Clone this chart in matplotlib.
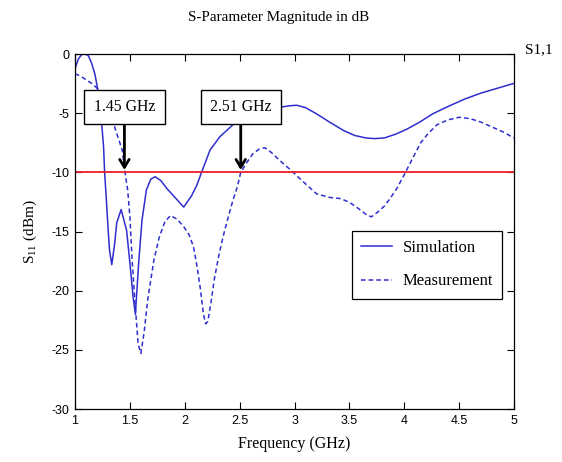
import matplotlib
matplotlib.use("Agg")
import matplotlib.pyplot as plt

# return loss traces (GHz, dB)
sim_f = [1.00, 1.03, 1.06, 1.09, 1.12, 1.15, 1.18, 1.22, 1.24, 1.26, 1.27, 1.285,
         1.30, 1.315, 1.335, 1.36, 1.38, 1.42, 1.47, 1.50, 1.53, 1.55, 1.58, 1.61,
         1.65, 1.69, 1.73, 1.78, 1.84, 1.93, 1.99, 2.06, 2.11, 2.15, 2.23, 2.32,
         2.44, 2.55, 2.65, 2.75, 2.85, 2.95, 3.02, 3.10, 3.20, 3.32, 3.45, 3.55,
         3.65, 3.73, 3.82, 3.92, 4.02, 4.14, 4.26, 4.40, 4.55, 4.70, 4.85, 5.00]
sim_db = [-1.25, -0.43, -0.05, 0.0, -0.12, -0.74, -1.66, -3.6, -5.56, -7.81, -10.07, -12.22,
          -14.58, -16.63, -17.8, -16.1, -14.27, -13.14, -14.9, -17.65, -20.6, -22.0, -17.65, -14.07,
          -11.5, -10.58, -10.37, -10.68, -11.4, -12.32, -12.94, -12.01, -11.09, -10.07, -8.12, -6.99,
          -5.97, -5.45, -5.05, -4.74, -4.53, -4.38, -4.33, -4.53, -5.05, -5.76, -6.48, -6.89,
          -7.09, -7.15, -7.09, -6.78, -6.37, -5.76, -5.05, -4.43, -3.81, -3.3, -2.89, -2.48]

meas_f = [1.00, 1.05, 1.10, 1.17, 1.22, 1.27, 1.31, 1.35, 1.39, 1.43, 1.455, 1.48,
          1.50, 1.52, 1.55, 1.575, 1.60, 1.63, 1.66, 1.68, 1.72, 1.77, 1.82, 1.87,
          1.93, 1.99, 2.04, 2.08, 2.11, 2.14, 2.17, 2.19, 2.21, 2.24, 2.27, 2.31,
          2.35, 2.40, 2.44, 2.48, 2.51, 2.56, 2.62, 2.68, 2.73, 2.79, 2.87, 2.96,
          3.08, 3.20, 3.32, 3.42, 3.50, 3.58, 3.65, 3.70, 3.76, 3.82, 3.87, 3.93,
          4.00, 4.08, 4.15, 4.22, 4.30, 4.40, 4.50, 4.60, 4.70, 4.80, 4.90, 5.00]
meas_db = [-1.66, -1.87, -2.17, -2.59, -3.1, -3.81, -4.74, -5.86, -6.99, -8.12, -10.0, -11.5,
           -13.76, -17.35, -21.45, -24.5, -25.3, -23.5, -20.93, -19.7, -17.35, -15.4, -14.16, -13.65,
           -13.96, -14.58, -15.3, -16.3, -17.86, -19.7, -21.96, -22.8, -22.6, -20.93, -18.99, -17.04,
           -15.4, -13.65, -12.32, -11.2, -10.0, -9.25, -8.43, -8.02, -7.92, -8.33, -9.04, -9.76,
           -10.8, -11.81, -12.12, -12.22, -12.53, -13.04, -13.55, -13.76, -13.35, -12.84, -12.22, -11.4,
           -10.2, -8.74, -7.5, -6.69, -5.97, -5.56, -5.35, -5.46, -5.76, -6.17, -6.58, -7.1]

threshold_db = -10
marker_f = [1.45, 2.51]
marker_labels = ["1.45 GHz", "2.51 GHz"]

serif = "Liberation Serif"
plt.rcParams["font.family"] = "Liberation Sans"
plt.rcParams["axes.unicode_minus"] = False
plt.rcParams["mathtext.fontset"] = "custom"
plt.rcParams["mathtext.rm"] = serif

fig = plt.figure(figsize=(5.62, 4.62), dpi=100)
ax = fig.add_axes([0.1335, 0.1147, 0.7811, 0.7684])

blue = "#2e2ecf"
ax.plot(sim_f, sim_db, color=blue, lw=1.1, label="Simulation")
ax.plot(meas_f, meas_db, color=blue, lw=1.1, linestyle=(0, (3, 2)), label="Measurement")
ax.axhline(threshold_db, color="#e8202a", lw=1.3)

for f, txt in zip(marker_f, marker_labels):
    ax.annotate(txt, xy=(f, threshold_db + 0.2), xytext=(f, -4.48),
                ha="center", va="center", fontsize=11.3, family=serif,
                bbox=dict(boxstyle="square,pad=0.6", fc="white", ec="black", lw=1.0),
                arrowprops=dict(arrowstyle="->,head_length=0.5,head_width=0.3",
                                color="black", lw=2.0, shrinkA=0, shrinkB=0),
                zorder=5)

ax.set_xlim(1, 5)
ax.set_ylim(-30, 0)
ax.set_xticks([1, 1.5, 2, 2.5, 3, 3.5, 4, 4.5, 5])
ax.set_xticklabels(["1", "1.5", "2", "2.5", "3", "3.5", "4", "4.5", "5"])
ax.set_yticks([-30, -25, -20, -15, -10, -5, 0])
ax.tick_params(direction="in", length=5, width=0.8, top=True, right=True,
               labelsize=9, pad=4)
for s in ax.spines.values():
    s.set_linewidth(0.9)

fig.text(0.495, 0.963, "S-Parameter Magnitude in dB", family=serif, fontsize=10.9,
         ha="center", va="center")
ax.set_xlabel("Frequency (GHz)", family=serif, fontsize=11.5, labelpad=7)
ax.set_ylabel(r"S$_{\mathrm{11}}$ (dBm)", family=serif, fontsize=11, labelpad=9)
fig.text(0.934, 0.892, "S1,1", family=serif, fontsize=11, va="center")

leg = ax.legend(loc="upper right", bbox_to_anchor=(0.973, 0.502), borderaxespad=0,
                fancybox=False, edgecolor="black", framealpha=1,
                prop={"family": serif, "size": 12},
                handlelength=1.9, handletextpad=0.6, borderpad=0.55, labelspacing=1.05)
leg.get_frame().set_linewidth(0.9)

fig.savefig("out.png", dpi=100)
